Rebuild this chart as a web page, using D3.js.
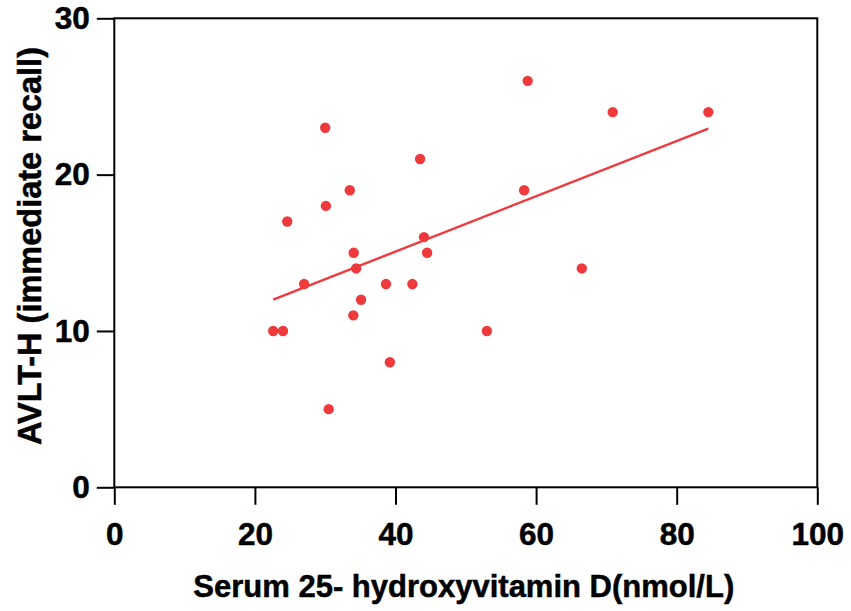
<!DOCTYPE html>
<meta charset="utf-8">
<style>

html, body {
  margin: 0;
  overflow: hidden;
  background: #fff;
}

svg {
  display: block;
}

svg text {
  fill: #000;
  stroke: #000;
  stroke-width: 0.5px;
}

</style>
<body>
<script src="https://d3js.org/d3.v7.js"></script>
<script>

// serum 25(OH)D (nmol/L) and AVLT-H immediate recall
const vitD = [30.0, 43.5, 33.5, 30.1, 24.6, 44.05, 34.05, 44.5, 34.4, 27.0, 38.65, 42.4,
              35.1, 34.0, 22.6, 24.0, 39.2, 30.5, 58.8, 70.9, 84.5, 58.3, 66.5, 53.0];
const recall = [23, 21, 19, 18, 17, 16, 15, 15, 14, 13, 13, 13,
                12, 11, 10, 10, 8, 5, 26, 24, 24, 19, 14, 10];

// ends of the fitted line
const fitX = [22.6, 84.5];
const fitY = [12.0, 22.95];

const xTicks = [0, 20, 40, 60, 80, 100];
const yTicks = [0, 10, 20, 30];

const width = 851;
const height = 611;

const margin = {top: 18.3, right: 33.7, bottom: 123.7, left: 114.3};

const innerWidth = width - margin.left - margin.right;
const innerHeight = height - margin.top - margin.bottom;

const font = "'Liberation Sans', Arial, Helvetica, sans-serif";
const red = "#ef3a3d";

const xScale = d3.scaleLinear()
    .domain([0, 100])
    .range([0, innerWidth]);

const yScale = d3.scaleLinear()
    .domain([0, 30])
    .range([innerHeight, 0]);

const svg = d3.select("body").append("svg")
    .attr("width", width)
    .attr("height", height)
    .attr("font-family", font)
    .attr("font-weight", "bold")
  .append("g")
    .attr("transform", `translate(${margin.left}, ${margin.top})`);

const xAxis = d3.axisBottom(xScale)
    .tickValues(xTicks)
    .tickSize(17.5)
    .tickPadding(18);

const yAxis = d3.axisLeft(yScale)
    .tickValues(yTicks)
    .tickSize(17.5)
    .tickPadding(7);

const gx = svg.append("g")
    .attr("transform", `translate(0, ${innerHeight})`)
    .call(xAxis);

const gy = svg.append("g")
    .call(yAxis);

[gx, gy].forEach(g => {
  g.attr("font-size", 31.5)
   .attr("font-family", font)
   .attr("font-weight", "bold");
  g.select(".domain").remove();
  g.selectAll(".tick line").attr("stroke", "#000").attr("stroke-width", 2);
  g.selectAll(".tick text").attr("fill", "#000");
});

// box round the plot
svg.append("rect")
    .attr("x", 0)
    .attr("y", 0)
    .attr("width", innerWidth)
    .attr("height", innerHeight)
    .attr("fill", "none")
    .attr("stroke", "#000")
    .attr("stroke-width", 2);

const line = d3.line()
    .x(d => xScale(d[0]))
    .y(d => yScale(d[1]));

svg.append("path")
    .attr("d", line(fitX.map((x, i) => [x, fitY[i]])))
    .attr("fill", "none")
    .attr("stroke", red)
    .attr("stroke-width", 2.4);

svg.selectAll(".dot")
    .data(vitD.map((x, i) => ({x: x, y: recall[i]})))
  .enter().append("circle")
    .attr("class", "dot")
    .attr("cx", d => xScale(d.x))
    .attr("cy", d => yScale(d.y))
    .attr("r", 5.2)
    .attr("fill", red);

svg.append("text")
    .attr("x", innerWidth / 2 - 2)
    .attr("y", 597 - margin.top)
    .attr("text-anchor", "middle")
    .attr("font-size", 31)
    .text("Serum 25- hydroxyvitamin D(nmol/L)");

svg.append("text")
    .attr("transform", `translate(${41 - margin.left}, ${246 - margin.top}) rotate(-90)`)
    .attr("text-anchor", "middle")
    .attr("font-size", 32.5)
    .text("AVLT-H (immediate recall)");

</script>
